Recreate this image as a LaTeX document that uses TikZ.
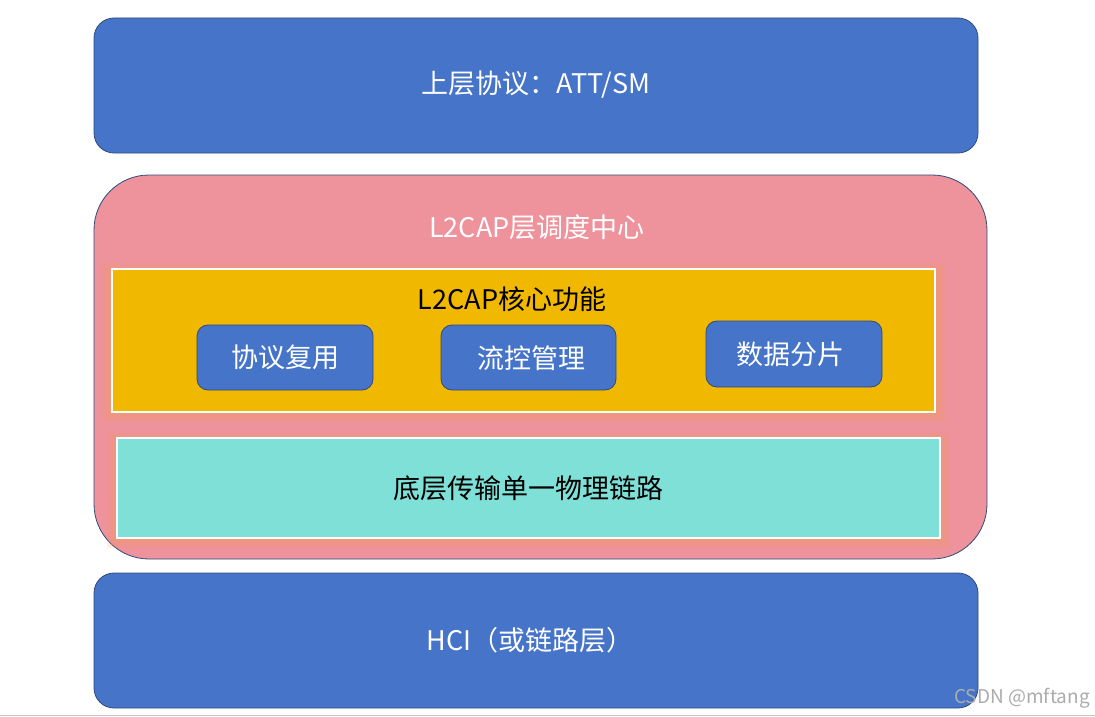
\documentclass[tikz,border=0pt]{standalone}
\usepackage{fontspec}
\setmainfont{Noto Sans CJK SC}
\definecolor{bblue}{HTML}{4674C9}
\definecolor{bedge}{HTML}{2F4B7C}
\definecolor{pinkf}{HTML}{EE929C}
\definecolor{yelf}{HTML}{F1B800}
\definecolor{tealf}{HTML}{7FE0D7}
\definecolor{glow}{HTML}{F0A060}
\newcommand{\bigf}{\fontsize{27}{32}\selectfont}
\tikzset{
  layer/.style={draw=bedge, line width=0.8pt, fill=bblue, rounded corners=20pt},
  func/.style={draw=bedge, line width=0.8pt, fill=bblue, rounded corners=11pt},
  inner/.style={draw=white, line width=1.2pt},
  wlabel/.style={text=white, font=\bigf},
  blabel/.style={text=black, font=\bigf},
}
\begin{document}
\begin{tikzpicture}[x=1pt,y=-1pt]
\useasboundingbox (0,0) rectangle (1095,717);
\fill[white] (0,0) rectangle (1095,717);
% top layer
\draw[layer] (94,18) rectangle (978,153);
\node[wlabel] (top) at (536,85) {上层协议：ATT/SM};
% L2CAP block
\draw[draw=bedge, line width=0.8pt, fill=pinkf, rounded corners=55pt] (94,175) rectangle (987,559);
\node[wlabel] (l2cap) at (537,227) {L2CAP层调度中心};
% glows
\foreach \d in {2,4,6,8,10} {
  \fill[glow, opacity=0.13] (112-\d,269-\d+4) rectangle (935+\d,412+\d);
  \fill[glow, opacity=0.13] (117-\d,438-\d+4) rectangle (940+\d,538+\d);
}
% yellow core box
\draw[inner, fill=yelf] (112,269) rectangle (935,412);
\node[blabel] (core) at (512,299) {L2CAP核心功能};
\draw[func] (197,325) rectangle (373,390);
\node[wlabel] (mux) at (285,357) {协议复用};
\draw[func] (441,325) rectangle (616,390);
\node[wlabel] (flow) at (531,358) {流控管理};
\draw[func] (706,321) rectangle (882,387);
\node[wlabel] (seg) at (790,354) {数据分片};
% teal box
\draw[inner, fill=tealf] (117,438) rectangle (940,538);
\node[blabel] (phys) at (528,488) {底层传输单一物理链路};
% bottom layer
\draw[layer] (94,573) rectangle (978,708);
\node[wlabel] (hci) at (530,640) {HCI（或链路层）};
% bottom rule
\draw[gray!45, line width=1pt] (0,715) -- (1095,715);
% watermark
\node[text=gray!65, font=\fontsize{19}{22}\selectfont, anchor=east, inner sep=0pt] (wm) at (1090,698) {CSDN @mftang};
\end{tikzpicture}
\end{document}
